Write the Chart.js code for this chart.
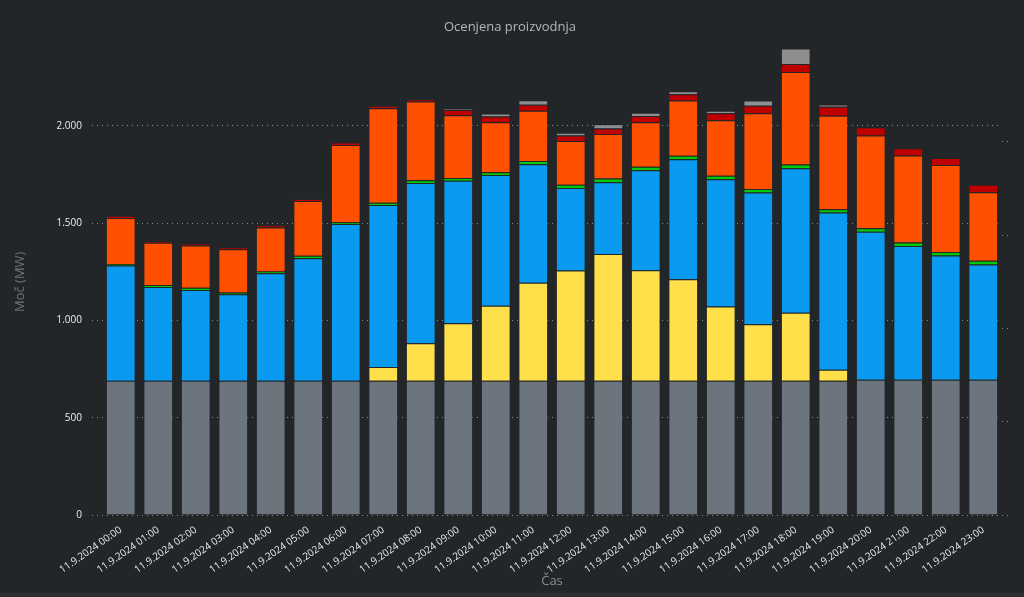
<!DOCTYPE html>
<html>
<head>
<meta charset="utf-8">
<script src="https://cdn.jsdelivr.net/npm/chart.js@4/dist/chart.umd.min.js"></script>
<style>
  html, body { margin: 0; padding: 0; background: #2b2f33; }
  #wrap { width: 1024px; height: 593px; background: #222629; }
</style>
</head>
<body>
<div id="wrap"><canvas id="chart"></canvas></div>
<script>
// kategorije (ure)
const labels = ['11.9.2024 00:00', '11.9.2024 01:00', '11.9.2024 02:00', '11.9.2024 03:00',
    '11.9.2024 04:00', '11.9.2024 05:00', '11.9.2024 06:00', '11.9.2024 07:00',
    '11.9.2024 08:00', '11.9.2024 09:00', '11.9.2024 10:00', '11.9.2024 11:00',
    '11.9.2024 12:00', '11.9.2024 13:00', '11.9.2024 14:00', '11.9.2024 15:00',
    '11.9.2024 16:00', '11.9.2024 17:00', '11.9.2024 18:00', '11.9.2024 19:00',
    '11.9.2024 20:00', '11.9.2024 21:00', '11.9.2024 22:00', '11.9.2024 23:00'];

// vrednosti po virih (MW)
const jedrska = [690, 690, 690, 690, 690, 690, 690, 690, 690, 690, 690, 690,
    690, 690, 690, 690, 690, 690, 690, 690, 695, 695, 695, 695];
const soncna = [0, 0, 0, 0, 0, 0, 0, 71, 193, 295, 386, 504,
    566, 652, 568, 521, 381, 290, 350, 57, 0, 0, 0, 0];
const hidro = [592, 482, 466, 444, 552, 630, 805, 832, 823, 733, 671, 608,
    424, 368, 514, 617, 654, 678, 742, 808, 761, 687, 639, 593];
const veter = [8, 10, 12, 10, 10, 12, 10, 12, 14, 14, 14, 17,
    17, 20, 18, 18, 19, 17, 19, 17, 18, 19, 18, 19];
const termo = [236, 217, 217, 222, 225, 282, 397, 486, 405, 323, 258, 259,
    225, 228, 229, 284, 285, 390, 476, 480, 476, 446, 447, 352];
const plin = [12, 8, 10, 9, 12, 10, 12, 12, 12, 27, 29, 31,
    29, 29, 31, 32, 36, 38, 41, 46, 43, 38, 36, 38];
const ostalo = [0, 0, 0, 0, 0, 0, 0, 0, 0, 4, 15, 23,
    14, 21, 17, 16, 13, 27, 79, 12, 0, 0, 0, 0];

const korak = 500;
const gridColor = '#8a8d90';
const fontFamily = '"Open Sans", "Noto Sans", sans-serif';

function serija(label, data, color) {
    return {
        label: label,
        data: data,
        backgroundColor: color,
        borderColor: 'rgba(40, 40, 40, 0.35)',
        borderWidth: 1,
        categoryPercentage: 0.8,
        barPercentage: 0.99
    };
}

const ctx = document.getElementById('chart').getContext('2d');
new Chart(ctx, {
    type: 'bar',
    data: {
        labels: labels,
        datasets: [
            serija('Jedrska', jedrska, '#6c757d'),
            serija('Sončna', soncna, '#ffe04a'),
            serija('Hidro', hidro, '#0a9bf0'),
            serija('Veter', veter, '#00c80a'),
            serija('Termo', termo, '#ff5000'),
            serija('Plin', plin, '#c00000'),
            serija('Ostalo', ostalo, '#8e8e8e')
        ]
    },
    options: {
        responsive: true,
        maintainAspectRatio: false,
        animation: false,
        locale: 'de-DE',
        layout: { padding: { left: 8, right: 12, bottom: 4 } },
        plugins: {
            legend: { display: false },
            tooltip: { enabled: false },
            title: {
                display: true,
                text: 'Ocenjena proizvodnja',
                color: '#b4b6b8',
                font: { family: fontFamily, size: 13, weight: 'normal' },
                padding: { top: 19, bottom: 14 }
            }
        },
        scales: {
            x: {
                stacked: true,
                grid: { display: false },
                border: { display: false },
                afterFit: function (scale) { scale.height = 74; },
                ticks: {
                    color: '#ececec',
                    font: { family: fontFamily, size: 10 },
                    maxRotation: 35,
                    minRotation: 35,
                    autoSkip: false,
                    padding: 1
                },
                title: {
                    display: true,
                    text: 'Čas',
                    color: '#8a8d90',
                    font: { family: fontFamily, size: 13 },
                    padding: { top: 4, bottom: 0 }
                }
            },
            y: {
                stacked: true,
                beginAtZero: true,
                bounds: 'data',
                afterBuildTicks: function (scale) {
                    scale.ticks = scale.ticks.filter(t => t.value % korak === 0);
                },
                afterFit: function (scale) { scale.width = 94; },
                grid: {
                    color: gridColor,
                    tickColor: gridColor,
                    tickLength: 10,
                    tickBorderDash: [1, 4]
                },
                border: { display: false, dash: [1, 4] },
                ticks: {
                    color: '#ececec',
                    font: { family: fontFamily, size: 10 },
                    stepSize: korak,
                    padding: 10
                },
                title: {
                    display: true,
                    text: 'Moč (MW)',
                    color: '#6f7376',
                    font: { family: fontFamily, size: 13 }
                }
            },
            y1: {
                position: 'right',
                afterDataLimits: function (scale) {
                    const y = scale.chart.scales.y;
                    scale.min = y.min;
                    scale.max = y.max;
                },
                afterBuildTicks: function (scale) {
                    scale.ticks = scale.chart.scales.y.ticks.map(t => ({ value: t.value }));
                },
                grid: {
                    drawOnChartArea: false,
                    tickColor: gridColor,
                    tickLength: 10,
                    tickBorderDash: [1, 4]
                },
                border: { display: false },
                ticks: { display: false }
            }
        }
    }
});
</script>
</body>
</html>
